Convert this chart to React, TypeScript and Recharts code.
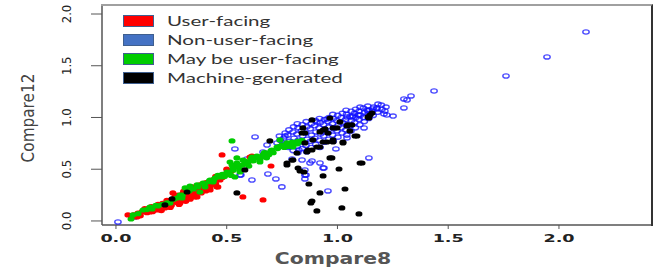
import React from "react";
import { ScatterChart, Scatter, XAxis, YAxis } from "recharts";

// ---------- data ----------
const seriesNames = ["User-facing", "Non-user-facing", "May be user-facing", "Machine-generated"];
const xTicks = [0, 0.5, 1, 1.5, 2];
const xTickLabels = ["0.0", "0.5", "1.0", "1.5", "2.0"];
const yTicks = [0, 0.5, 1, 1.5, 2];
const yTickLabels = ["0.0", "0.5", "1.0", "1.5", "2.0"];
const xDomain: [number, number] = [-0.063, 2.42];
const yDomain: [number, number] = [-0.039, 2.087];

const userFacing: [number, number][] = [
  [0.054, 0.058], [0.095, 0.039], [0.099, 0.077], [0.117, 0.087], [0.131, 0.106], [0.144, 0.116],
  [0.153, 0.087], [0.176, 0.126], [0.19, 0.106], [0.199, 0.135], [0.212, 0.155], [0.221, 0.126],
  [0.23, 0.174], [0.235, 0.155], [0.244, 0.155], [0.253, 0.184], [0.257, 0.271], [0.266, 0.232],
  [0.28, 0.222], [0.289, 0.174], [0.298, 0.203], [0.312, 0.232], [0.312, 0.3], [0.325, 0.242],
  [0.334, 0.271], [0.343, 0.329], [0.348, 0.28], [0.357, 0.232], [0.366, 0.319], [0.366, 0.232],
  [0.379, 0.348], [0.388, 0.3], [0.402, 0.367], [0.415, 0.367], [0.424, 0.319], [0.433, 0.377],
  [0.447, 0.367], [0.46, 0.329], [0.47, 0.396], [0.479, 0.638], [0.483, 0.425], [0.492, 0.444],
  [0.506, 0.473], [0.573, 0.232], [0.596, 0.57], [0.605, 0.618], [0.614, 0.628], [0.664, 0.203],
  [0.7, 0.531],
  [0.07, 0.03], [0.08, 0.06], [0.11, 0.05], [0.12, 0.09], [0.14, 0.08], [0.15, 0.12], [0.17, 0.1],
  [0.18, 0.14], [0.2, 0.12], [0.21, 0.17], [0.22, 0.14], [0.24, 0.19], [0.25, 0.15], [0.26, 0.21],
  [0.27, 0.18], [0.28, 0.25], [0.29, 0.2], [0.3, 0.26], [0.31, 0.21], [0.32, 0.28], [0.33, 0.24],
  [0.34, 0.3], [0.35, 0.26], [0.36, 0.33], [0.37, 0.28], [0.38, 0.32], [0.39, 0.35], [0.4, 0.31],
  [0.41, 0.34], [0.42, 0.38], [0.43, 0.35], [0.44, 0.4], [0.45, 0.36], [0.46, 0.41], [0.48, 0.42],
  [0.5, 0.45], [0.52, 0.48], [0.55, 0.53], [0.5, 0.5], [0.45, 0.43], [0.19, 0.16], [0.23, 0.2],
  [0.27, 0.23], [0.32, 0.22], [0.36, 0.27], [0.16, 0.14], [0.13, 0.12],
  [0.1, 0.06], [0.165, 0.09], [0.205, 0.1], [0.245, 0.13], [0.285, 0.16], [0.315, 0.19],
  [0.335, 0.21], [0.355, 0.24], [0.385, 0.27], [0.405, 0.29], [0.425, 0.3], [0.455, 0.33],
  [0.305, 0.285], [0.345, 0.315], [0.41, 0.37],
];

const nonUserFacing: [number, number][] = [
  [2.122, 1.826], [1.946, 1.585], [1.761, 1.401], [1.436, 1.256], [1.332, 1.208], [1.3, 1.179],
  [1.314, 1.169], [1.3, 1.092], [1.219, 1.101], [1.214, 1.063], [1.223, 1.024], [1.251, 1.014],
  [1.178, 1.082], [1.16, 1.082], [1.133, 1.072], [1.097, 1.024], [1.07, 1.014], [1.043, 1.005],
  [1.12, 0.899], [1.043, 0.802], [1.093, 1.024], [1.065, 1.005], [0.953, 0.986], [0.907, 0.957],
  [1.142, 0.609], [0.935, 0.512], [0.853, 0.406], [0.957, 0.29], [0.853, 0.444], [0.853, 0.493],
  [0.009, -0.01], [0.086, 0.039], [0.537, 0.696], [0.614, 0.396], [0.686, 0.454], [0.722, 0.406],
  [0.749, 0.329], [0.628, 0.812], [0.664, 0.667], [0.56, 0.444], [1.21, 1.034], [1.138, 1.063],
  [0.993, 0.696], [0.939, 0.512], [0.921, 0.56], [0.858, 0.444], [0.885, 0.58], [0.826, 0.686],
  [0.682, 0.734], [0.763, 0.821], [0.727, 0.754], [0.591, 0.599], [0.564, 0.444], [0.795, 0.599],
  [0.84, 0.589], [0.876, 0.56],
  [0.742, 0.78], [0.738, 0.82], [0.761, 0.74], [0.757, 0.8], [0.764, 0.85],
  [0.778, 0.71], [0.783, 0.77], [0.776, 0.83], [0.781, 0.88],
  [0.8, 0.68], [0.797, 0.74], [0.804, 0.8], [0.799, 0.86], [0.802, 0.91],
  [0.821, 0.66], [0.818, 0.72], [0.823, 0.78], [0.817, 0.84], [0.822, 0.9], [0.819, 0.94],
  [0.842, 0.7], [0.838, 0.76], [0.843, 0.82], [0.837, 0.87], [0.841, 0.93],
  [0.861, 0.67], [0.858, 0.73], [0.863, 0.79], [0.857, 0.85], [0.862, 0.91], [0.859, 0.96],
  [0.881, 0.71], [0.878, 0.77], [0.883, 0.83], [0.877, 0.89], [0.882, 0.94],
  [0.902, 0.74], [0.898, 0.8], [0.903, 0.86], [0.897, 0.92], [0.901, 0.97],
  [0.921, 0.71], [0.918, 0.78], [0.923, 0.84], [0.917, 0.9], [0.922, 0.95], [0.919, 0.99],
  [0.942, 0.76], [0.938, 0.82], [0.943, 0.88], [0.937, 0.93], [0.941, 0.98],
  [0.961, 0.79], [0.958, 0.85], [0.963, 0.91], [0.957, 0.96], [0.962, 1.0],
  [0.981, 0.77], [0.978, 0.83], [0.983, 0.89], [0.977, 0.94], [0.982, 0.99], [0.979, 1.03],
  [1.002, 0.81], [0.998, 0.87], [1.003, 0.92], [0.997, 0.97], [1.001, 1.02],
  [1.021, 0.85], [1.018, 0.9], [1.023, 0.95], [1.017, 1.0], [1.022, 1.04],
  [1.042, 0.83], [1.038, 0.88], [1.043, 0.93], [1.037, 0.98], [1.041, 1.03], [1.039, 1.07],
  [1.061, 0.87], [1.058, 0.92], [1.063, 0.97], [1.057, 1.01], [1.062, 1.06],
  [1.081, 0.9], [1.078, 0.95], [1.083, 1.0], [1.077, 1.04], [1.082, 1.08],
  [1.101, 0.93], [1.098, 0.98], [1.103, 1.02], [1.097, 1.06], [1.102, 1.1],
  [1.121, 0.96], [1.118, 1.0], [1.123, 1.05], [1.117, 1.09],
  [1.141, 0.99], [1.138, 1.03], [1.143, 1.07], [1.137, 1.11],
  [1.161, 1.02], [1.158, 1.06], [1.163, 1.1],
  [1.181, 1.05], [1.178, 1.09], [1.183, 1.13],
  [1.201, 1.08], [1.198, 1.12],
];

const mayBeUserFacing: [number, number][] = [
  [0.068, 0.019], [0.077, 0.058], [0.122, 0.106], [0.153, 0.135], [0.163, 0.116], [0.19, 0.145],
  [0.23, 0.174], [0.244, 0.174], [0.275, 0.222], [0.289, 0.251], [0.298, 0.222], [0.312, 0.319],
  [0.334, 0.338], [0.366, 0.348], [0.379, 0.28], [0.393, 0.367], [0.402, 0.329], [0.424, 0.396],
  [0.438, 0.377], [0.447, 0.415], [0.46, 0.425], [0.479, 0.425], [0.501, 0.473], [0.506, 0.464],
  [0.515, 0.57], [0.524, 0.541], [0.528, 0.512], [0.524, 0.773], [0.537, 0.425], [0.546, 0.56],
  [0.546, 0.609], [0.56, 0.473], [0.573, 0.589], [0.596, 0.57], [0.614, 0.618], [0.637, 0.628],
  [0.65, 0.57], [0.664, 0.638], [0.682, 0.657], [0.704, 0.686], [0.727, 0.715], [0.74, 0.783],
  [0.749, 0.734], [0.772, 0.754], [0.795, 0.763], [0.799, 0.715], [0.817, 0.744], [0.831, 0.763],
  [0.1, 0.07], [0.14, 0.11], [0.18, 0.15], [0.21, 0.16], [0.26, 0.21], [0.3, 0.25], [0.33, 0.29],
  [0.35, 0.31], [0.37, 0.33], [0.4, 0.35], [0.42, 0.38], [0.44, 0.39], [0.46, 0.44], [0.48, 0.45],
  [0.49, 0.43], [0.51, 0.47], [0.53, 0.49], [0.55, 0.52], [0.57, 0.54], [0.58, 0.58], [0.59, 0.55],
  [0.61, 0.6], [0.62, 0.58], [0.63, 0.61], [0.66, 0.62], [0.67, 0.66], [0.69, 0.64], [0.7, 0.68],
  [0.71, 0.66], [0.73, 0.7], [0.74, 0.72], [0.76, 0.71], [0.77, 0.74], [0.78, 0.72], [0.8, 0.75],
  [0.82, 0.77], [0.84, 0.78], [0.52, 0.44], [0.56, 0.5], [0.6, 0.53], [0.65, 0.59], [0.68, 0.61],
];

const machineGenerated: [number, number][] = [
  [1.156, 1.043], [1.138, 1.005], [1.079, 0.821], [1.142, 0.995], [0.844, 0.899], [1.088, 0.821],
  [1.111, 0.56], [1.007, 0.502], [0.935, 0.435], [0.871, 0.357], [1.034, 0.309], [0.921, 0.271],
  [0.885, 0.193], [0.88, 0.174], [0.907, 0.097], [1.02, 0.126], [1.097, 0.068], [0.831, 0.483],
  [0.975, 0.609], [0.772, 0.541], [0.822, 0.512], [0.849, 0.473], [0.799, 0.589], [0.84, 0.85],
  [0.935, 0.879], [0.957, 0.85], [0.998, 0.899], [1.047, 0.928], [1.056, 0.87], [0.853, 0.754],
  [0.907, 0.715], [0.817, 0.657], [0.867, 0.686], [0.98, 0.763], [0.935, 0.763], [1.025, 0.763],
  [0.221, 0.155], [0.253, 0.213], [0.321, 0.28], [0.546, 0.271], [0.582, 0.493], [0.695, 0.773],
  [0.795, 0.589], [0.885, 0.976], [0.966, 0.995], [1.011, 0.957],
  [0.853, 0.85], [0.921, 0.86], [0.944, 0.889], [0.98, 0.899], [1.043, 0.918], [0.98, 0.783],
  [0.889, 0.783], [0.953, 0.763], [1.025, 0.754], [1.147, 1.024], [1.065, 0.928], [0.862, 0.667],
  [0.921, 0.715], [0.885, 0.686], [0.966, 0.609], [1.102, 0.56], [0.772, 0.56],
];

const toPoints = (arr: [number, number][]) => arr.map(([x, y]) => ({ x, y }));

const COLORS = {
  user: "#ff0000",
  non: "#1010ff",
  maybe: "#00cc00",
  machine: "#000000",
};
const legendColors = ["#ff0000", "#4472c4", "#00cc00", "#000000"];

// layout
const CHART_W = 664;
const CHART_H = 277;
const MARGIN = { top: 5, right: 12, left: 0, bottom: 0 };
const Y_AXIS_W = 102;
const X_AXIS_H = 52;

// ---------- shapes ----------
const FilledDot = (color: string) => (props: any) => {
  const { cx, cy } = props;
  if (cx == null || cy == null) return <g />;
  return <ellipse cx={cx} cy={cy} rx={3.5} ry={2.6} fill={color} />;
};
const OpenDot = (props: any) => {
  const { cx, cy } = props;
  if (cx == null || cy == null) return <g />;
  return <ellipse cx={cx} cy={cy} rx={3.2} ry={2.1} fill="none" stroke={COLORS.non} strokeOpacity={0.75} strokeWidth={1.4} />;
};

const XTick = (props: any) => {
  const { x, y, payload } = props;
  return (
    <text
      transform={`translate(${x},${y + 7}) scale(1.6,1)`}
      textAnchor="middle"
      dominantBaseline="central"
      fontFamily="DejaVu Sans"
      fontWeight="bold"
      fontSize={11}
      fill="#222"
    >
      {xTickLabels[xTicks.indexOf(payload.value)]}
    </text>
  );
};

const YTick = (props: any) => {
  const { y, payload } = props;
  return (
    <text
      transform={`translate(66,${y}) rotate(-90)`}
      textAnchor="middle"
      dominantBaseline="central"
      fontFamily="'Liberation Sans Narrow', 'DejaVu Sans Condensed', sans-serif"
      fontSize={13}
      fill="#222"
    >
      {yTickLabels[yTicks.indexOf(payload.value)]}
    </text>
  );
};

const XLabel = (props: any) => {
  const { viewBox } = props;
  const vx = viewBox?.x ?? 102;
  const vy = viewBox?.y ?? 225;
  return (
    <text
      transform={`translate(${vx + 231},${vy + 34}) scale(1.36,1)`}
      textAnchor="middle"
      dominantBaseline="central"
      fontFamily="DejaVu Sans"
      fontWeight="bold"
      fontSize={15}
      fill="#555"
    >
      Compare8
    </text>
  );
};

const YLabel = () => (
  <text
    transform={`translate(28,118) rotate(-90)`}
    textAnchor="middle"
    dominantBaseline="central"
    fontFamily="'Liberation Sans Narrow', 'DejaVu Sans Condensed', sans-serif"
    fontSize={17}
    fill="#444"
  >
    Compare12
  </text>
);

export default function App() {
  const plotLeft = MARGIN.left + Y_AXIS_W;
  const plotTop = MARGIN.top;
  const plotW = CHART_W - MARGIN.right - plotLeft;
  const plotH = CHART_H - MARGIN.bottom - X_AXIS_H - plotTop;
  return (
    <div style={{ position: "absolute", left: 0, top: 0, width: CHART_W, height: CHART_H, background: "#fff" }}>
      <ScatterChart width={CHART_W} height={CHART_H} margin={MARGIN}>
        <XAxis
          type="number"
          dataKey="x"
          xAxisId="b"
          domain={xDomain}
          ticks={xTicks}
          height={X_AXIS_H}
          tickSize={4}
          tick={<XTick />}
          axisLine={{ stroke: "#555", strokeWidth: 1.5 }}
          tickLine={{ stroke: "#555" }}
          allowDataOverflow
          label={<XLabel />}
        />
        <YAxis
          type="number"
          dataKey="y"
          yAxisId="l"
          domain={yDomain}
          ticks={yTicks}
          width={Y_AXIS_W}
          tickSize={11}
          tick={<YTick />}
          axisLine={{ stroke: "#555", strokeWidth: 1.5 }}
          tickLine={{ stroke: "#555" }}
          allowDataOverflow
          label={<YLabel />}
        />
        <Scatter name={seriesNames[1]} data={toPoints(nonUserFacing)} xAxisId="b" yAxisId="l" shape={OpenDot} isAnimationActive={false} />
        <Scatter name={seriesNames[0]} data={toPoints(userFacing)} xAxisId="b" yAxisId="l" shape={FilledDot(COLORS.user)} isAnimationActive={false} />
        <Scatter name={seriesNames[2]} data={toPoints(mayBeUserFacing)} xAxisId="b" yAxisId="l" shape={FilledDot(COLORS.maybe)} isAnimationActive={false} />
        <Scatter name={seriesNames[3]} data={toPoints(machineGenerated)} xAxisId="b" yAxisId="l" shape={FilledDot(COLORS.machine)} isAnimationActive={false} />
      </ScatterChart>
      <div
        style={{
          position: "absolute",
          left: plotLeft - 1,
          top: plotTop - 1,
          width: plotW,
          height: plotH,
          borderTop: "2px solid #a0a0a0",
          borderRight: "2px solid #333",
          pointerEvents: "none",
        }}
      />
      <div style={{ position: "absolute", left: 123, top: 15 }}>
        {seriesNames.map((name, i) => (
          <div key={name} style={{ position: "absolute", left: 0, top: i * 19, height: 12, width: 300 }}>
            <div
              style={{
                position: "absolute",
                left: 0,
                top: 0,
                width: 29,
                height: 10,
                background: legendColors[i],
                border: "1px solid #3f5f8f",
              }}
            />
            <span
              style={{
                position: "absolute",
                left: 44,
                top: -4,
                fontFamily: "Lato, sans-serif",
                fontSize: 13,
                lineHeight: "20px",
                color: "#333",
                whiteSpace: "nowrap",
                transform: "scaleX(1.58)",
                transformOrigin: "left center",
              }}
            >
              {name}
            </span>
          </div>
        ))}
      </div>
    </div>
  );
}
